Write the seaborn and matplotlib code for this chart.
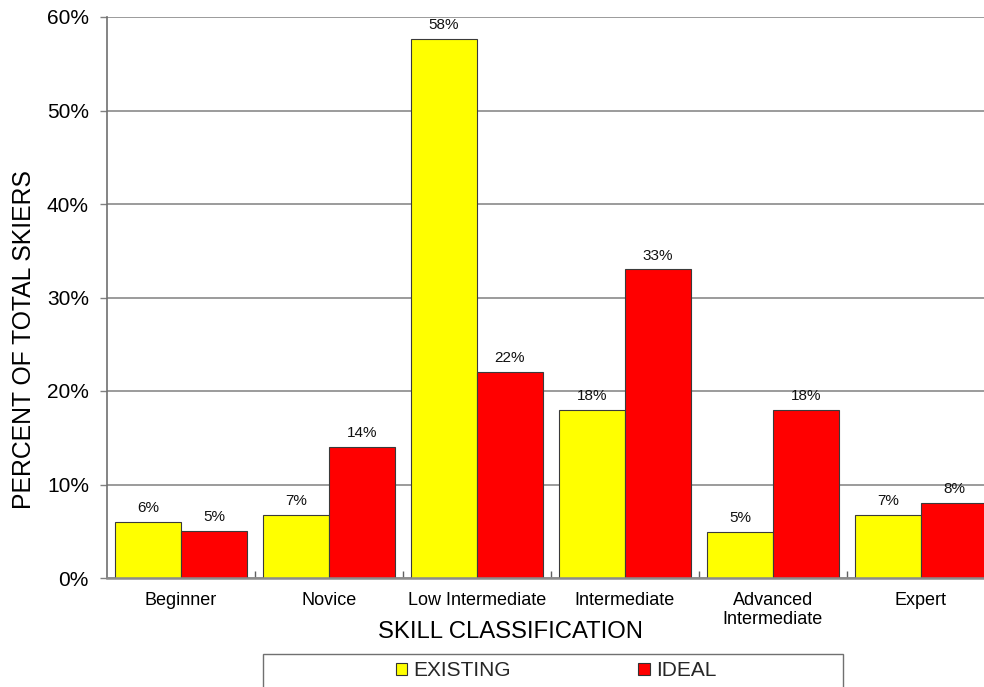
import matplotlib
matplotlib.use("Agg")
import matplotlib.pyplot as plt
from matplotlib.patches import Patch, Rectangle
import seaborn as sns
import pandas as pd

# Skill classes and share of skiers (%)
skills = ["Beginner", "Novice", "Low Intermediate", "Intermediate",
          "Advanced\nIntermediate", "Expert"]
existing = [6.0, 6.7, 57.7, 18.0, 4.9, 6.7]
ideal = [5.0, 14.0, 22.0, 33.0, 18.0, 8.0]
series_names = ["EXISTING", "IDEAL"]
series_colors = ["#FFFF00", "#FF0000"]
y_ticks = [0, 10, 20, 30, 40, 50, 60]

df = pd.DataFrame({
    "skill": skills * 2,
    "pct": existing + ideal,
    "series": [series_names[0]] * len(skills) + [series_names[1]] * len(skills),
})

sns.set_theme(style="white")
plt.rcParams["font.family"] = ["Liberation Sans", "DejaVu Sans"]

W, H = 984, 687
fig = plt.figure(figsize=(W / 100, H / 100), dpi=100)
# plot area runs slightly past the right edge of the canvas
ax = fig.add_axes([107 / W, 1 - 578 / H, 888 / W, (578 - 17) / H])

palette = dict(zip(series_names, series_colors))
sns.barplot(data=df, x="skill", y="pct", hue="series", order=skills,
            hue_order=series_names, palette=palette, width=0.89,
            saturation=1, edgecolor="#3a3a3a", linewidth=0.8,
            legend=False, ax=ax)

for cont in ax.containers:
    vals = [b.get_height() for b in cont]
    ax.bar_label(cont, labels=[f"{v:.0f}%" for v in vals], padding=5,
                 fontsize=11, color="#111111")

ax.set_xlim(-0.5, len(skills) - 0.5)
ax.set_ylim(0, 60)
ax.set_yticks(y_ticks)
ax.set_yticklabels([f"{v}%" for v in y_ticks], fontsize=15, color="#000000")
ax.tick_params(axis="y", which="major", direction="out", length=5, width=1,
               color="#808080", pad=8, left=True)
ax.tick_params(axis="x", which="major", length=0, pad=10, labelsize=13,
               labelcolor="#000000")
for lbl in ax.get_xticklabels():
    lbl.set_linespacing(1.2)
ax.set_xticks([i + 0.5 for i in range(len(skills) - 1)], minor=True)
ax.tick_params(axis="x", which="minor", direction="in", length=5, width=1,
               color="#606060", bottom=True)

ax.yaxis.grid(True, color="#808080", linewidth=1.1)
ax.set_axisbelow(True)
for side in ["top", "right"]:
    ax.spines[side].set_visible(False)
ax.spines["left"].set_color("#707070")
ax.spines["left"].set_linewidth(1.2)
ax.spines["bottom"].set_color("#8c8c8c")
ax.spines["bottom"].set_linewidth(1.8)

ax.set_xlabel("SKILL CLASSIFICATION", fontsize=17.2, color="#000000")
ax.set_ylabel("PERCENT OF TOTAL SKIERS", fontsize=17.8, color="#000000")
ax.xaxis.set_label_coords((510 - 107) / 888, (578 - 632) / 561)
ax.xaxis.label.set_va("center")
ax.yaxis.set_label_coords((24 - 107) / 888, (578 - 340) / 561)
ax.yaxis.label.set_va("center")

# legend frame, open at the bottom of the canvas
fig.patches.append(Rectangle((263 / W, -0.05), (843 - 263) / W,
                             0.05 + (1 - 654 / H), transform=fig.transFigure,
                             fill=False, edgecolor="#707070", linewidth=1.0))
handles = [Patch(facecolor=c, edgecolor="#333333", linewidth=0.8, label=n)
           for n, c in zip(series_names, series_colors)]
fig.legend(handles=handles, loc="center", ncol=2, frameon=False,
           bbox_to_anchor=(556 / W, 1 - 671 / H), fontsize=15,
           handlelength=0.55, handleheight=0.55, handletextpad=0.3,
           columnspacing=6.1, borderpad=0, borderaxespad=0)

fig.savefig("out.png", dpi=100)
